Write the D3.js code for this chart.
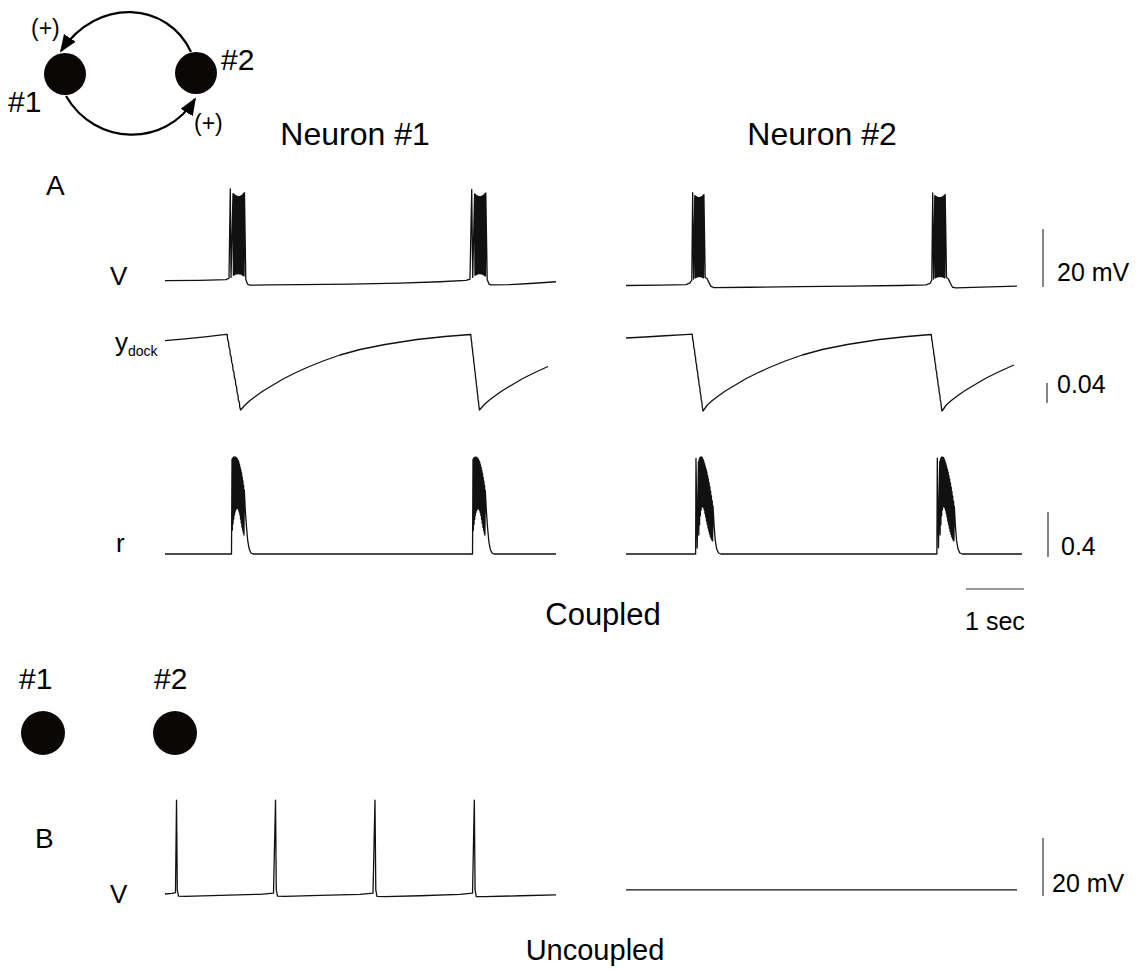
<!DOCTYPE html>
<html>
<head>
<meta charset="utf-8">
<script src="https://cdn.jsdelivr.net/npm/d3@7"></script>
<style>
  html, body { margin: 0; padding: 0; background: #fff; }
  svg { display: block; font-family: "Liberation Sans", Arial, Helvetica, sans-serif; }
</style>
</head>
<body>
<svg id="fig" width="1146" height="971"></svg>
<script>
// Samples are [time (s), value]. V in mV, y_dock and r dimensionless.

// ---- Coupled pair: membrane potential ----
const coupledV1 = [
  [0,-55.2],[0.604,-55.1],[1.053,-54.9],[1.105,-54.4],
  [1.127,-23.6],[1.140,-54.1],
  [1.174,-25.2],[1.181,-53.4],[1.187,-25.4],[1.194,-53.2],[1.200,-25.6],[1.207,-53.1],[1.214,-25.8],[1.220,-53.0],
  [1.227,-26.0],[1.233,-52.9],[1.240,-26.1],[1.247,-52.9],[1.253,-26.2],[1.260,-52.8],[1.266,-26.3],[1.273,-52.8],
  [1.280,-26.3],[1.286,-52.9],[1.293,-26.2],[1.299,-52.9],[1.306,-26.1],[1.313,-53.0],[1.319,-25.9],[1.326,-53.1],
  [1.332,-25.7],[1.339,-53.3],[1.346,-25.4],[1.352,-53.5],[1.359,-25.1],[1.365,-53.6],[1.372,-24.9],
  [1.395,-54.8],[1.424,-56.4],[1.467,-56.8],[1.813,-56.7],[2.331,-56.6],[3.194,-56.4],[4.057,-56.1],[4.747,-55.6],[5.196,-55.1],[5.265,-54.7],
  [5.295,-23.8],[5.312,-54.1],
  [5.345,-25.3],[5.351,-53.4],[5.358,-25.5],[5.364,-53.2],[5.371,-25.7],[5.377,-53.1],[5.384,-25.9],[5.390,-53.0],
  [5.397,-26.1],[5.403,-52.9],[5.410,-26.2],[5.416,-52.8],[5.422,-26.3],[5.429,-52.8],[5.435,-26.3],[5.442,-52.8],
  [5.448,-26.3],[5.455,-52.9],[5.461,-26.2],[5.467,-52.9],[5.474,-26.1],[5.480,-53.0],[5.487,-25.9],[5.493,-53.1],
  [5.500,-25.7],[5.506,-53.3],[5.513,-25.5],[5.519,-53.5],[5.525,-25.2],[5.532,-53.6],[5.538,-25.0],
  [5.562,-54.8],[5.593,-56.4],[5.628,-56.7],[5.956,-56.6],[6.301,-56.2],[6.750,-55.6]
];
const coupledV2 = [
  [0,-56.9],[0.587,-56.8],[1.036,-56.6],[1.105,-56.0],[1.136,-55.0],
  [1.151,-24.9],[1.167,-54.7],
  [1.188,-25.9],[1.195,-54.3],[1.201,-26.1],[1.208,-54.1],[1.214,-26.3],[1.221,-54.0],[1.227,-26.4],[1.234,-53.9],
  [1.240,-26.5],[1.247,-53.8],[1.253,-26.6],[1.260,-53.8],[1.266,-26.6],[1.273,-53.8],[1.280,-26.5],[1.286,-53.8],
  [1.293,-26.4],[1.299,-53.9],[1.306,-26.3],[1.312,-54.0],[1.319,-26.1],[1.325,-54.1],[1.332,-25.8],[1.338,-54.3],[1.345,-25.5],
  [1.367,-54.1],[1.398,-54.5],[1.433,-55.9],[1.467,-57.2],[1.519,-57.6],[2.141,-57.5],[3.004,-57.3],[3.867,-57.1],[4.730,-56.9],
  [5.179,-56.7],[5.248,-56.2],[5.279,-55.0],
  [5.295,-25.0],[5.310,-54.7],
  [5.331,-25.9],[5.338,-54.3],[5.345,-26.1],[5.352,-54.1],[5.359,-26.3],[5.366,-54.0],[5.372,-26.4],[5.379,-53.9],
  [5.386,-26.5],[5.393,-53.8],[5.400,-26.6],[5.407,-53.8],[5.414,-26.6],[5.421,-53.8],[5.427,-26.6],[5.434,-53.8],
  [5.441,-26.5],[5.448,-53.8],[5.455,-26.4],[5.462,-53.9],[5.469,-26.3],[5.476,-54.0],[5.482,-26.1],[5.489,-54.1],
  [5.496,-25.8],[5.503,-54.3],[5.510,-25.5],
  [5.533,-54.1],[5.567,-54.7],[5.602,-56.2],[5.637,-57.5],[5.697,-57.7],[6.284,-57.4],[6.750,-57.1]
];

// ---- Coupled pair: docked vesicle fraction ----
const coupledDock1 = [
  [0,0.2866],[0.345,0.2904],[0.691,0.2944],[1.053,0.2994],
  [1.074,0.299],[1.081,0.289],[1.097,0.2839],[1.104,0.2739],[1.120,0.2688],[1.127,0.2588],[1.144,0.2537],[1.151,0.2437],
  [1.167,0.2386],[1.174,0.2286],[1.190,0.2235],[1.197,0.2135],[1.214,0.2084],[1.221,0.1984],[1.237,0.1933],[1.244,0.1833],
  [1.260,0.1782],[1.267,0.1682],[1.284,0.1631],[1.291,0.1531],[1.307,0.148],
  [1.381,0.158],[1.467,0.167],[1.571,0.176],[1.692,0.186],[1.864,0.198],[2.054,0.211],[2.244,0.222],[2.451,0.233],
  [2.728,0.246],[3.021,0.258],[3.366,0.269],[3.798,0.279],[4.350,0.289],[4.834,0.295],[5.274,0.299],
  [5.279,0.299],[5.286,0.289],[5.294,0.2839],[5.301,0.2739],[5.309,0.2688],[5.316,0.2588],[5.324,0.2537],[5.331,0.2437],
  [5.339,0.2386],[5.346,0.2286],[5.354,0.2235],[5.361,0.2135],[5.369,0.2084],[5.376,0.1984],[5.384,0.1933],[5.391,0.1833],
  [5.399,0.1782],[5.406,0.1682],[5.414,0.1631],[5.421,0.1531],[5.429,0.148],
  [5.504,0.158],[5.590,0.167],[5.694,0.176],[5.814,0.186],[5.987,0.198],[6.177,0.211],[6.367,0.222],[6.574,0.233],[6.612,0.235]
];
const coupledDock2 = [
  [0,0.292],[0.328,0.294],[0.673,0.2965],[1.019,0.2988],[1.139,0.2996],
  [1.145,0.299],[1.152,0.289],[1.163,0.2839],[1.170,0.2739],[1.182,0.2688],[1.189,0.2588],[1.200,0.2537],[1.207,0.2437],
  [1.218,0.2386],[1.225,0.2286],[1.237,0.2235],[1.244,0.2135],[1.255,0.2084],[1.262,0.1984],[1.274,0.1933],[1.281,0.1833],
  [1.292,0.1782],[1.299,0.1682],[1.311,0.1631],[1.318,0.1531],[1.329,0.146],
  [1.404,0.158],[1.490,0.167],[1.593,0.176],[1.714,0.186],[1.887,0.198],[2.077,0.211],[2.267,0.222],[2.474,0.233],
  [2.750,0.246],[3.044,0.258],[3.389,0.269],[3.820,0.279],[4.373,0.289],[4.856,0.295],[5.265,0.299],
  [5.271,0.299],[5.278,0.289],[5.289,0.2839],[5.296,0.2739],[5.308,0.2688],[5.315,0.2588],[5.326,0.2537],[5.333,0.2437],
  [5.344,0.2386],[5.351,0.2286],[5.363,0.2235],[5.370,0.2135],[5.381,0.2084],[5.388,0.1984],[5.400,0.1933],[5.407,0.1833],
  [5.418,0.1782],[5.425,0.1682],[5.437,0.1631],[5.444,0.1531],[5.455,0.146],
  [5.530,0.158],[5.616,0.167],[5.719,0.176],[5.840,0.186],[6.013,0.198],[6.203,0.211],[6.393,0.222],[6.600,0.233],[6.698,0.238]
];

// ---- Coupled pair: synaptic activation r ----
const coupledR1 = [
  [0,0],[1.148,0],
  [1.157,0.844],[1.163,0.213],[1.169,0.853],[1.175,0.267],[1.181,0.858],[1.187,0.311],[1.192,0.862],[1.198,0.347],
  [1.204,0.862],[1.210,0.373],[1.216,0.862],[1.222,0.391],[1.228,0.858],[1.234,0.404],[1.239,0.853],[1.245,0.409],
  [1.251,0.844],[1.257,0.404],[1.263,0.831],[1.269,0.391],[1.275,0.818],[1.281,0.373],[1.287,0.796],[1.293,0.347],
  [1.298,0.773],[1.304,0.311],[1.310,0.747],[1.316,0.276],[1.322,0.720],[1.328,0.240],[1.334,0.684],[1.340,0.213],
  [1.346,0.649],[1.352,0.187],[1.357,0.613],[1.363,0.169],[1.369,0.569],
  [1.386,0.391],[1.407,0.240],[1.429,0.116],[1.454,0.044],[1.485,0.009],[1.519,0],
  [5.309,0],
  [5.317,0.840],[5.323,0.210],[5.329,0.851],[5.335,0.264],[5.341,0.857],[5.347,0.308],[5.352,0.860],[5.358,0.344],
  [5.364,0.861],[5.370,0.370],[5.376,0.860],[5.382,0.388],[5.388,0.856],[5.394,0.401],[5.399,0.850],[5.405,0.405],
  [5.411,0.841],[5.417,0.400],[5.423,0.829],[5.429,0.388],[5.435,0.815],[5.441,0.370],[5.447,0.793],[5.453,0.344],
  [5.458,0.770],[5.464,0.308],[5.470,0.744],[5.476,0.273],[5.482,0.716],[5.488,0.238],[5.494,0.681],[5.500,0.211],
  [5.506,0.645],[5.512,0.185],[5.517,0.610],[5.523,0.167],[5.529,0.566],
  [5.547,0.390],[5.568,0.238],[5.590,0.115],[5.614,0.044],[5.645,0.009],[5.680,0],[6.750,0]
];
const coupledR2 = [
  [0,0],[1.202,0],
  [1.208,0.849],[1.229,0.053],
  [1.250,0.818],[1.257,0.169],[1.263,0.844],[1.270,0.258],[1.277,0.858],[1.283,0.338],[1.290,0.862],[1.297,0.391],
  [1.303,0.862],[1.310,0.418],[1.316,0.858],[1.323,0.422],[1.330,0.844],[1.336,0.413],[1.343,0.827],[1.350,0.391],
  [1.356,0.804],[1.363,0.360],[1.369,0.782],[1.376,0.329],[1.383,0.756],[1.389,0.293],[1.396,0.729],[1.403,0.262],
  [1.409,0.698],[1.416,0.231],[1.422,0.667],[1.429,0.204],[1.436,0.631],[1.442,0.178],[1.449,0.596],[1.456,0.156],
  [1.462,0.556],[1.469,0.138],[1.475,0.516],[1.482,0.124],[1.489,0.471],[1.495,0.116],[1.502,0.427],
  [1.519,0.267],[1.540,0.124],[1.566,0.044],[1.597,0.009],[1.640,0],
  [5.367,0],
  [5.374,0.851],[5.395,0.055],
  [5.416,0.820],[5.423,0.170],[5.429,0.846],[5.436,0.260],[5.443,0.859],[5.449,0.340],[5.456,0.862],[5.463,0.392],
  [5.469,0.861],[5.476,0.418],[5.482,0.857],[5.489,0.421],[5.496,0.843],[5.502,0.411],[5.509,0.826],[5.516,0.390],
  [5.522,0.803],[5.529,0.359],[5.535,0.780],[5.542,0.328],[5.549,0.755],[5.555,0.292],[5.562,0.728],[5.569,0.261],
  [5.575,0.697],[5.582,0.230],[5.588,0.666],[5.595,0.203],[5.602,0.630],[5.608,0.177],[5.615,0.595],[5.622,0.155],
  [5.628,0.555],[5.635,0.137],[5.641,0.515],[5.648,0.123],[5.655,0.470],[5.661,0.115],[5.668,0.425],
  [5.685,0.265],[5.706,0.123],[5.732,0.044],[5.763,0.009],[5.806,0],[6.836,0]
];

// ---- Uncoupled pair: membrane potential ----
const uncoupledV1 = [
  [0,-55.0],[0.121,-54.8],[0.181,-54.5],[0.199,-22.6],[0.212,-53.6],[0.233,-55.7],[0.345,-55.8],[0.950,-55.5],[1.640,-55.1],
  [1.873,-54.7],[1.908,-22.6],[1.921,-53.6],[1.942,-55.7],[2.072,-55.8],[2.676,-55.5],[3.366,-55.1],
  [3.591,-54.7],[3.625,-22.6],[3.639,-53.6],[3.660,-55.8],[3.798,-55.9],[4.402,-55.6],[5.093,-55.1],
  [5.309,-54.7],[5.340,-22.6],[5.353,-53.6],[5.374,-55.9],[5.524,-55.9],[6.129,-55.6],[6.750,-55.3]
];
const uncoupledV2 = [[0,-53.6],[6.75,-53.6]];

// Scale bar values and their labels
const scaleBarValues = { V: 20, dock: 0.04, r: 0.4, time: 1 };
const scaleBarLabels = { V: "20 mV", dock: "0.04", r: "0.4", time: "1 sec" };

// ---------------- drawing ----------------
const svg = d3.select("#fig");

const xN1 = d3.scaleLinear().domain([0, 6.75]).range([165, 556]);
const xN2 = d3.scaleLinear().domain([0, 6.75]).range([626, 1017]);
const yVA = d3.scaleLinear().domain([-55, -25]).range([280, 193]);
const yDock = d3.scaleLinear().domain([0.30, 0.14]).range([334, 414]);
const yR = d3.scaleLinear().domain([0, 0.8]).range([554, 464]);
const yVB = d3.scaleLinear().domain([-55, -25]).range([894, 807]);

function trace(data, xs, ys) {
  const line = d3.line().x(d => xs(d[0])).y(d => ys(d[1]));
  svg.append("path")
    .attr("d", line(data))
    .attr("fill", "none")
    .attr("stroke", "#111")
    .attr("stroke-width", 1.3)
    .attr("stroke-linejoin", "round");
}

trace(coupledV1, xN1, yVA);
trace(coupledV2, xN2, yVA);
trace(coupledDock1, xN1, yDock);
trace(coupledDock2, xN2, yDock);
trace(coupledR1, xN1, yR);
trace(coupledR2, xN2, yR);
trace(uncoupledV1, xN1, yVB);
trace(uncoupledV2, xN2, yVB);

// vertical scale bars (length from each row's scale)
function vBar(x, yBottom, scale, value, label, labelX, labelY) {
  const len = Math.abs(scale(value) - scale(0));
  svg.append("line")
    .attr("x1", x).attr("x2", x)
    .attr("y1", yBottom).attr("y2", yBottom - len)
    .attr("stroke", "#333").attr("stroke-width", 1.2);
  svg.append("text")
    .attr("x", labelX).attr("y", labelY)
    .attr("font-size", 25).attr("fill", "#000")
    .text(label);
}
vBar(1043, 287, yVA, scaleBarValues.V, scaleBarLabels.V, 1057, 281);
vBar(1047, 403, yDock, scaleBarValues.dock, scaleBarLabels.dock, 1057, 393);
vBar(1048, 557, yR, scaleBarValues.r, scaleBarLabels.r, 1061, 555);
vBar(1043, 896, yVB, scaleBarValues.V, scaleBarLabels.V, 1052, 892);

// horizontal time bar
{
  const len = xN2(scaleBarValues.time) - xN2(0);
  svg.append("line")
    .attr("x1", 966).attr("x2", 966 + len)
    .attr("y1", 589).attr("y2", 589)
    .attr("stroke", "#333").attr("stroke-width", 1.2);
  svg.append("text")
    .attr("x", 966 + len / 2).attr("y", 630)
    .attr("text-anchor", "middle").attr("font-size", 25)
    .text(scaleBarLabels.time);
}

// text labels
function label(txt, x, y, size, anchor) {
  return svg.append("text")
    .attr("x", x).attr("y", y)
    .attr("font-size", size)
    .attr("text-anchor", anchor || "start")
    .attr("fill", "#000")
    .text(txt);
}
label("Neuron #1", 355, 145, 32, "middle");
label("Neuron #2", 822, 145, 32, "middle");
label("A", 46, 195, 28);
label("V", 110, 285, 26);
{
  const t = svg.append("text").attr("x", 115).attr("y", 351).attr("font-size", 26);
  t.append("tspan").text("y");
  t.append("tspan").attr("font-size", 14).attr("dy", 5).text("dock");
}
label("r", 116, 552, 26);
label("Coupled", 603, 625, 31, "middle");
label("B", 35, 848, 28);
label("V", 110, 903, 26);
label("Uncoupled", 595, 960, 29, "middle");
label("#1", 19, 689, 30);
label("#2", 154, 689, 30);

// cell symbols
const cellFill = "#0b0707";
svg.append("circle").attr("cx", 43).attr("cy", 733).attr("r", 22).attr("fill", cellFill);
svg.append("circle").attr("cx", 175).attr("cy", 733).attr("r", 22).attr("fill", cellFill);

// reciprocal excitation diagram
const defs = svg.append("defs");
defs.append("marker")
  .attr("id", "head")
  .attr("viewBox", "0 0 10 10")
  .attr("refX", 9).attr("refY", 5)
  .attr("markerWidth", 8).attr("markerHeight", 8)
  .attr("markerUnits", "strokeWidth")
  .attr("orient", "auto")
  .append("path").attr("d", "M0,1 L10,5 L0,9 z").attr("fill", "#000");

svg.append("circle").attr("cx", 65).attr("cy", 74).attr("r", 21).attr("fill", cellFill);
svg.append("circle").attr("cx", 196).attr("cy", 73).attr("r", 21).attr("fill", cellFill);

const topArc = d3.path();
topArc.moveTo(191, 52);
topArc.bezierCurveTo(168, 2, 98, -4, 61, 51);
svg.append("path").attr("d", topArc.toString())
  .attr("fill", "none").attr("stroke", "#000").attr("stroke-width", 2.2)
  .attr("marker-end", "url(#head)");

const botArc = d3.path();
botArc.moveTo(66, 96);
botArc.bezierCurveTo(95, 146, 165, 148, 195, 99);
svg.append("path").attr("d", botArc.toString())
  .attr("fill", "none").attr("stroke", "#000").attr("stroke-width", 2.2)
  .attr("marker-end", "url(#head)");

label("(+)", 31, 36, 23);
label("(+)", 194, 131, 23);
label("#2", 221, 70, 30);
label("#1", 8, 112, 30);
</script>
</body>
</html>
